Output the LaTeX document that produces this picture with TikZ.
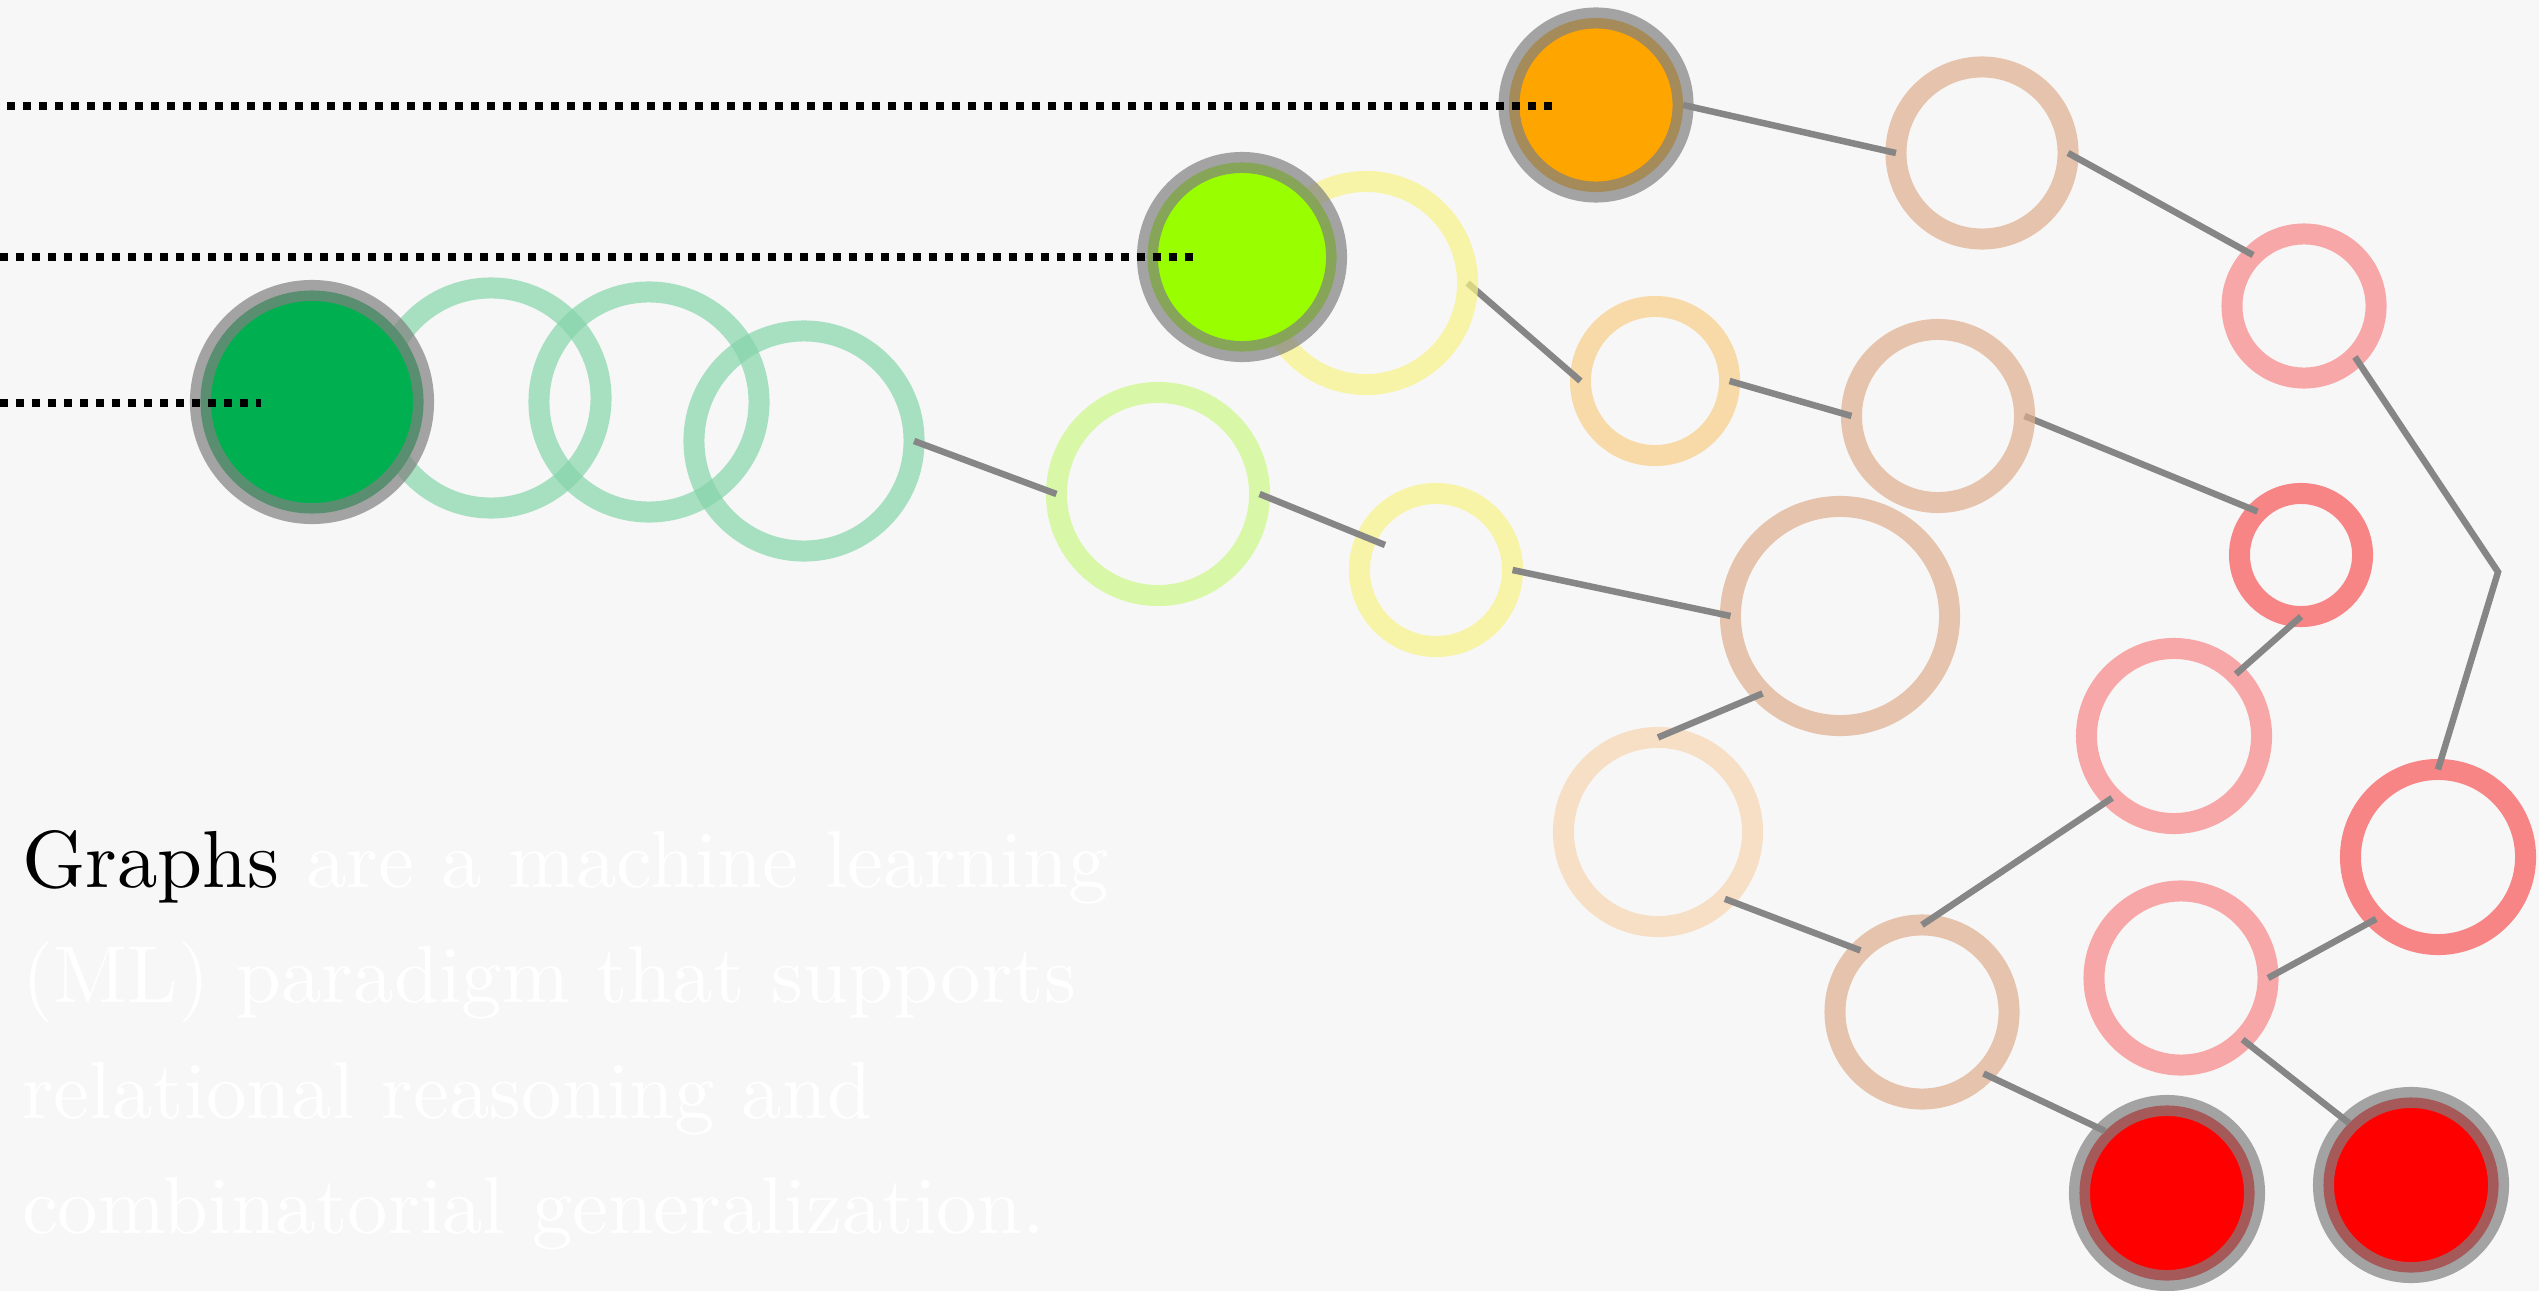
\documentclass[tikz,border=0pt]{standalone}
\usepackage{fontspec}
\newfontfamily\txtfont{lmroman10-regular.otf}
\usetikzlibrary{calc}
\definecolor{bg}{HTML}{F7F7F7}
\definecolor{edgegray}{HTML}{868686}
\definecolor{halo}{HTML}{808080}
\definecolor{fgreen}{HTML}{00B050}
\definecolor{flime}{HTML}{99FF00}
\definecolor{forange}{HTML}{FFA500}
\definecolor{fred}{HTML}{FF0000}
\definecolor{cgreen}{HTML}{86D5AB}
\definecolor{clime}{HTML}{CCF786}
\definecolor{cyellow}{HTML}{F8F486}
\definecolor{corange}{HTML}{F8CE86}
\definecolor{cpeach}{HTML}{DFAE8D}
\definecolor{cpink}{HTML}{F78686}
\definecolor{cred}{HTML}{F75656}
\definecolor{ccream}{HTML}{F8D6B1}
\begin{document}
\begin{tikzpicture}[x=0.01cm,y=-0.01cm,
  ring/.style={circle,inner sep=0pt,outer sep=0pt,line width=0.21cm,draw opacity=0.7},
  filled/.style={circle,inner sep=0pt,outer sep=0pt,line width=0.21cm,draw=halo,draw opacity=0.7},
  edge/.style={draw=edgegray,line width=0.065cm},
  dots/.style={draw=black,line width=0.08cm,dash pattern=on 0.08cm off 0.08cm},
  txt/.style={anchor=base west,inner sep=0pt,outer sep=0pt,font=\txtfont\fontsize{23}{30}\selectfont,text=white}]
\fill[bg] (0,0) rectangle (2539,1291);
\useasboundingbox (0,0) rectangle (2539,1291);

% rings
\node[ring,draw=cgreen,minimum size=2.20cm] (g1) at (491,398) {};
\node[ring,draw=cgreen,minimum size=2.20cm] (g2) at (649,402) {};
\node[ring,draw=cgreen,minimum size=2.20cm] (g3) at (804,441) {};
\node[ring,draw=clime,minimum size=2.03cm] (L1) at (1158,494) {};
\node[ring,draw=cyellow,minimum size=1.53cm] (Y2) at (1436,570) {};
\node[ring,draw=corange,minimum size=1.49cm] (O1) at (1655,381) {};
\node[ring,draw=cpeach,minimum size=1.72cm] (P1) at (1982,153) {};
\node[ring,draw=cpink,minimum size=1.44cm] (K1) at (2304,306) {};
\node[ring,draw=cpeach,minimum size=2.19cm] (P3) at (1840,616) {};
\node[ring,draw=cred,minimum size=1.23cm] (R1) at (2301,555) {};
\node[ring,draw=cpink,minimum size=1.75cm] (K2) at (2174,736) {};
\node[ring,draw=cred,minimum size=1.75cm] (R2) at (2438,857) {};
\node[ring,draw=ccream,minimum size=1.89cm] (C1) at (1658,832) {};
\node[ring,draw=cpeach,minimum size=1.74cm] (P4) at (1922,1012) {};
\node[ring,draw=cpink,minimum size=1.74cm] (K3) at (2181,978) {};

% edges drawn beneath some rings
\node[ring,draw=none,minimum size=2.03cm] (Y1) at (1366,283) {};
\node[ring,draw=none,minimum size=1.73cm] (P2) at (1938,416) {};
\draw[edge] (Y1.east) -- (O1.west);
\draw[edge] (P2.east) -- (R1.135);
\draw[cyellow,line width=0.21cm,draw opacity=0.7] (Y1.center) circle[radius=1.015cm];
\draw[cpeach,line width=0.21cm,draw opacity=0.7] (P2.center) circle[radius=0.865cm];

% filled nodes
\node[filled,fill=fgreen,minimum size=2.23cm] (G0) at (312,402) {};
\node[filled,fill=flime,minimum size=1.89cm] (Lm) at (1242,257) {};
\node[filled,fill=forange,minimum size=1.74cm] (Or) at (1596,105) {};
\node[filled,fill=fred,minimum size=1.75cm] (Rd1) at (2167,1193) {};
\node[filled,fill=fred,minimum size=1.75cm] (Rd2) at (2411,1185) {};

% edges
\coordinate (bend) at (2498,572);
\draw[edge] (Or.east) -- (P1.west);
\draw[edge] (P1.east) -- (K1.135);
\draw[edge] (K1.-45) -- (bend) -- (R2.north);
\draw[edge] (O1.east) -- (P2.west);
\draw[edge] (R1.south) -- (K2.45);
\draw[edge] (g3.east) -- (L1.west);
\draw[edge] (L1.east) -- ($(Y2.center)+(-51,-25)$);
\draw[edge] (Y2.east) -- (P3.west);
\draw[edge] (P3.-135) -- (C1.north);
\draw[edge] (C1.-45) -- (P4.135);
\draw[edge] (P4.north) -- (K2.-135);
\draw[edge] (P4.-45) -- (Rd1.135);
\draw[edge] (K3.east) -- (R2.-135);
\draw[edge] (K3.-45) -- (Rd2.135);

% dotted leaders
\coordinate (d1) at (7,106);
\coordinate (d2) at (0,257);
\coordinate (d3) at (0,403);
\draw[dots] (d1) -- ($(Or.center)+(-44,1)$);
\draw[dots] (d2) -- ($(Lm.center)+(-49,0)$);
\draw[dots] (d3) -- ($(G0.center)+(-51,1)$);

% text
\node[txt] (t1) at (22,887) {{\color{black}Graphs} are a machine learning};
\node[txt] (t2) at (22,1002) {(ML) paradigm that supports};
\node[txt] (t3) at (22,1118) {relational reasoning and};
\node[txt] (t4) at (22,1233) {combinatorial generalization.};
\end{tikzpicture}
\end{document}
